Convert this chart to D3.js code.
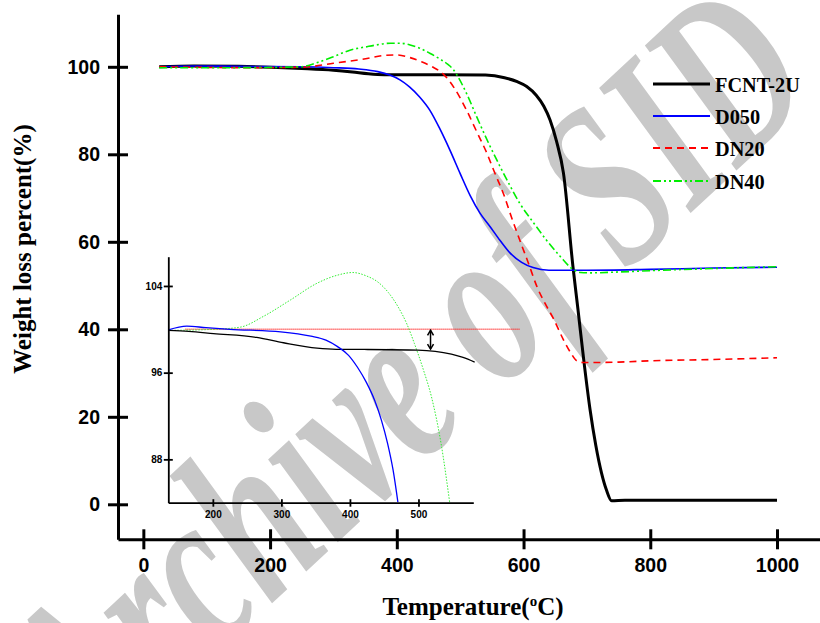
<!DOCTYPE html>
<html>
<head>
<meta charset="utf-8">
<script src="https://cdn.jsdelivr.net/npm/d3@7"></script>
<style>
  body { margin: 0; background: #fff; }
  svg { display: block; }
</style>
</head>
<body>
<div id="chart"></div>
<script>
// ---- data ----
const seriesNames = ["FCNT-2U", "D050", "DN20", "DN40"];

const fcntT = [25, 80, 150, 250, 300, 330, 355, 380, 450, 540, 570, 590, 605, 620, 632, 642, 652, 663, 678, 686, 695, 705, 714, 723, 731, 739, 760, 850, 1000];
const fcntW = [100, 100.2, 100.1, 99.6, 99.2, 98.8, 98.4, 98.2, 98.2, 98.1, 97.5, 96.6, 95.5, 93.5, 91, 87.8, 83, 75.7, 54.3, 44.4, 33, 21.6, 13.5, 7.2, 3.2, 0.8, 0.9, 0.9, 0.9];

const d050T = [25, 80, 150, 250, 300, 340, 370, 389, 405, 420, 436, 452, 468, 484, 500, 516, 531, 547, 563, 579, 597, 615, 640, 700, 800, 900, 1000];
const d050W = [100, 100.2, 100.1, 100, 99.8, 99.5, 98.9, 98.1, 97, 95.4, 93.1, 90.1, 85.8, 80.9, 75.6, 70.5, 66.6, 63.5, 60.3, 57.4, 55.3, 54.1, 53.5, 53.5, 53.7, 54, 54.2];

const dn20T = [25, 80, 150, 250, 300, 353, 380, 400, 421, 440, 456, 473, 490, 510, 526, 542, 555, 568, 581, 594, 608, 621, 634, 647, 663, 675, 684, 695, 705, 750, 800, 900, 1000];
const dn20W = [100, 99.9, 99.8, 99.9, 100.8, 101.9, 102.6, 102.7, 102.1, 101.1, 100, 98.4, 95.3, 90.1, 85.2, 80.3, 75.6, 71.1, 65.6, 60.4, 55, 49.8, 45.9, 42.5, 37.6, 34.5, 32.8, 32.4, 32.4, 32.5, 32.8, 33.1, 33.5];

const dn40T = [25, 80, 150, 247, 275, 300, 326, 353, 368, 390, 405, 421, 437, 452, 470, 480, 489, 497, 511, 526, 545, 563, 578, 594, 615, 636, 657, 678, 690, 705, 750, 800, 900, 1000];
const dn40W = [99.8, 99.8, 99.8, 100, 101, 102.3, 103.8, 104.6, 105, 105.4, 105.4, 105, 104.2, 103.1, 101.6, 100.6, 99.4, 97.6, 93.6, 88.6, 82.5, 77.2, 73, 68.8, 64.5, 60.4, 56.8, 53.7, 53, 52.9, 53.1, 53.4, 53.9, 54.3];

// inset (zoom of 135-580 C)
const inBlackT = [135, 165, 201, 264, 303, 352, 380, 421, 499, 548, 565, 582];
const inBlackW = [99.9, 99.8, 99.6, 99.25, 98.76, 98.26, 98.15, 98.14, 98.08, 97.7, 97.4, 96.97];
const inBlueT = [135, 162, 190, 225, 299, 343, 365, 382, 398, 411, 424, 436, 446, 455, 463, 470];
const inBlueW = [99.95, 100.3, 100.15, 100, 99.77, 99.37, 99, 98.4, 97.6, 96.5, 95.1, 93.45, 91.6, 89.45, 87, 84.05];
const inGreenT = [135, 201, 240, 274, 313, 352, 382, 404, 425, 440, 456, 470, 483, 494, 507, 519, 533, 545.5];
const inGreenW = [99.9, 100, 100.2, 101.2, 102.7, 104.25, 105, 105.24, 104.9, 104.4, 103.4, 102.1, 100.5, 98.7, 96.3, 93.76, 89.45, 84.05];
const inRefT = [160, 648];
const inRefW = [100, 100];
const arrowT = 517.6;
const arrowW = [100, 98.08];

const xMajor = [0, 200, 400, 600, 800, 1000];
const yMajor = [0, 20, 40, 60, 80, 100];
const inXMajor = [200, 300, 400, 500];
const inYMajor = [88, 96, 104];

// ---- layout ----
const width = 820;
const height = 623;

const svg = d3.select("#chart")
    .append("svg")
    .attr("width", width)
    .attr("height", height);

const x = d3.scaleLinear().domain([-40, 1080]).range([118, 827.7]);
const y = d3.scaleLinear().domain([-8, 112]).range([539.3, 14.3]);

const xi = d3.scaleLinear().domain([135, 580]).range([168.3, 473.3]);
const yi = d3.scaleLinear().domain([84, 106.7]).range([502.7, 256.7]);

// watermark sits under everything
svg.append("text")
    .attr("transform", "translate(458,430) rotate(-43) scale(0.68,1)")
    .attr("text-anchor", "middle")
    .style("font-family", "'Liberation Serif', 'Times New Roman', serif")
    .style("font-style", "italic")
    .style("font-weight", "bold")
    .style("font-size", "235px")
    .attr("fill", "#c8c8c8")
    .text("Archive of SID");

const zip = (a, b) => a.map((t, i) => [t, b[i]]);

// ---- main curves ----
const line = d3.line()
    .x(d => x(d[0]))
    .y(d => y(d[1]))
    .curve(d3.curveMonotoneX);

const series = [
    { name: seriesNames[0], data: zip(fcntT, fcntW), color: "#000000", w: 3, dash: null },
    { name: seriesNames[1], data: zip(d050T, d050W), color: "#0000ff", w: 1.6, dash: null },
    { name: seriesNames[2], data: zip(dn20T, dn20W), color: "#ff0000", w: 1.6, dash: "7,5" },
    { name: seriesNames[3], data: zip(dn40T, dn40W), color: "#00ee00", w: 1.6, dash: "8,3,2,3,2,3" }
];

const gMain = svg.append("g");
series.forEach(s => {
    gMain.append("path")
        .datum(s.data)
        .attr("fill", "none")
        .attr("stroke", s.color)
        .attr("stroke-width", s.w)
        .attr("stroke-dasharray", s.dash)
        .attr("d", line);
});

// ---- main axes ----
const tickFont = "'Liberation Sans', Arial, sans-serif";
const titleFont = "'Liberation Serif', 'Times New Roman', serif";

const xMinor = d3.range(-40, 1080, 40).filter(v => !xMajor.includes(v));
const yMinor = d3.range(-8, 113, 4).filter(v => !yMajor.includes(v));

const gx = svg.append("g").attr("transform", "translate(0,539.3)");
gx.call(d3.axisBottom(x).tickValues(xMinor).tickSize(6).tickSizeOuter(0).tickFormat(""));
gx.call(d3.axisBottom(x).tickValues(xMajor).tickSize(10).tickSizeOuter(0).tickPadding(9).tickFormat(d3.format("d")));
gx.selectAll("path.domain").attr("stroke-width", 3);
gx.selectAll(".tick line").attr("stroke-width", 2);
gx.selectAll(".tick").filter(d => xMajor.includes(d)).select("line")
    .attr("y1", -10).attr("y2", 10).attr("stroke-width", 3);
gx.selectAll(".tick text")
    .style("font-family", tickFont).style("font-weight", "bold").style("font-size", "19.5px")
    .attr("fill", "#000");

const gy = svg.append("g").attr("transform", "translate(118,0)");
gy.call(d3.axisLeft(y).tickValues(yMinor).tickSize(6).tickSizeOuter(0).tickFormat(""));
gy.call(d3.axisLeft(y).tickValues(yMajor).tickSize(10).tickSizeOuter(0).tickPadding(8).tickFormat(d3.format("d")));
gy.selectAll("path.domain").attr("stroke-width", 3);
gy.selectAll(".tick line").attr("stroke-width", 2);
gy.selectAll(".tick").filter(d => yMajor.includes(d)).select("line")
    .attr("x1", -10).attr("x2", 10).attr("stroke-width", 3);
gy.selectAll(".tick text")
    .style("font-family", tickFont).style("font-weight", "bold").style("font-size", "19.5px")
    .attr("fill", "#000");

// axis titles
svg.append("text")
    .attr("transform", "translate(31,249) rotate(-90)")
    .attr("text-anchor", "middle")
    .style("font-family", titleFont).style("font-weight", "bold").style("font-size", "25px")
    .text("Weight loss percent(%)");

const xt = svg.append("text")
    .attr("x", 473).attr("y", 615)
    .attr("text-anchor", "middle")
    .style("font-family", titleFont).style("font-weight", "bold").style("font-size", "25px");
xt.append("tspan").text("Temperature(");
xt.append("tspan").attr("dy", -9).style("font-size", "15px").text("o");
xt.append("tspan").attr("dy", 9).text("C)");

// ---- legend ----
const legendY = [84, 116, 148, 181];
const leg = svg.append("g");
series.forEach((s, i) => {
    leg.append("line")
        .attr("x1", 653).attr("x2", 710)
        .attr("y1", legendY[i]).attr("y2", legendY[i])
        .attr("stroke", s.color)
        .attr("stroke-width", i === 0 ? 3 : 2)
        .attr("stroke-dasharray", s.dash);
    leg.append("text")
        .attr("x", 715).attr("y", legendY[i] + 8)
        .style("font-family", titleFont).style("font-weight", "bold").style("font-size", "20.3px")
        .text(s.name);
});

// ---- inset ----
const gIn = svg.append("g");
const lineIn = d3.line()
    .x(d => xi(d[0]))
    .y(d => yi(d[1]))
    .curve(d3.curveMonotoneX);

gIn.append("path").datum(zip(inRefT, inRefW))
    .attr("fill", "none").attr("stroke", "#ff2a2a").attr("stroke-width", 1.6)
    .attr("stroke-dasharray", "1,1").attr("d", lineIn);
gIn.append("path").datum(zip(inGreenT, inGreenW))
    .attr("fill", "none").attr("stroke", "#33ee33").attr("stroke-width", 1)
    .attr("stroke-dasharray", "1.5,1.5").attr("d", lineIn);
gIn.append("path").datum(zip(inBlackT, inBlackW))
    .attr("fill", "none").attr("stroke", "#000").attr("stroke-width", 1.3).attr("d", lineIn);
gIn.append("path").datum(zip(inBlueT, inBlueW))
    .attr("fill", "none").attr("stroke", "#0000ff").attr("stroke-width", 1.3).attr("d", lineIn);

// double-headed arrow
const ax = xi(arrowT);
const a0 = yi(arrowW[0]) + 1, a1 = yi(arrowW[1]) - 1;
gIn.append("line").attr("x1", ax).attr("x2", ax).attr("y1", a0).attr("y2", a1)
    .attr("stroke", "#000").attr("stroke-width", 1.5);
gIn.append("path")
    .attr("d", `M${ax - 3},${a0 + 5} L${ax},${a0} L${ax + 3},${a0 + 5}`)
    .attr("fill", "none").attr("stroke", "#000").attr("stroke-width", 1.5);
gIn.append("path")
    .attr("d", `M${ax - 3},${a1 - 5} L${ax},${a1} L${ax + 3},${a1 - 5}`)
    .attr("fill", "none").attr("stroke", "#000").attr("stroke-width", 1.5);

const inXMinor = d3.range(140, 581, 20).filter(v => !inXMajor.includes(v));
const inYMinor = d3.range(0, 14).map(k => +(84 + 1.6 * k - 0.8).toFixed(1))
    .filter(v => v > 84 && v <= 106.7 && !inYMajor.includes(v));

const gix = svg.append("g").attr("transform", "translate(0,502.7)");
gix.call(d3.axisTop(xi).tickValues(inXMinor).tickSize(3).tickSizeOuter(0).tickFormat(""));
gix.call(d3.axisBottom(xi).tickValues(inXMajor).tickSize(4).tickSizeOuter(0).tickPadding(4).tickFormat(d3.format("d")));
gix.selectAll("path.domain").attr("stroke-width", 1.8);
gix.selectAll(".tick line").attr("stroke-width", 1.2);
gix.selectAll(".tick").filter(d => inXMajor.includes(d)).select("line")
    .attr("y1", -3.5).attr("y2", 4).attr("stroke-width", 1.8);
gix.selectAll(".tick text")
    .style("font-family", tickFont).style("font-weight", "bold").style("font-size", "10px");

const giy = svg.append("g").attr("transform", "translate(168.3,0)");
giy.call(d3.axisLeft(yi).tickValues(inYMinor).tickSize(3).tickSizeOuter(0).tickFormat(""));
giy.call(d3.axisLeft(yi).tickValues(inYMajor).tickSize(4.5).tickSizeOuter(0).tickPadding(1.5).tickFormat(d3.format("d")));
giy.selectAll("path.domain").attr("stroke-width", 1.8);
giy.selectAll(".tick line").attr("stroke-width", 1.2);
giy.selectAll(".tick").filter(d => inYMajor.includes(d)).select("line")
    .attr("x1", -4.5).attr("x2", 4.5).attr("stroke-width", 1.8);
giy.selectAll(".tick text")
    .style("font-family", tickFont).style("font-weight", "bold").style("font-size", "10px");
</script>
</body>
</html>
